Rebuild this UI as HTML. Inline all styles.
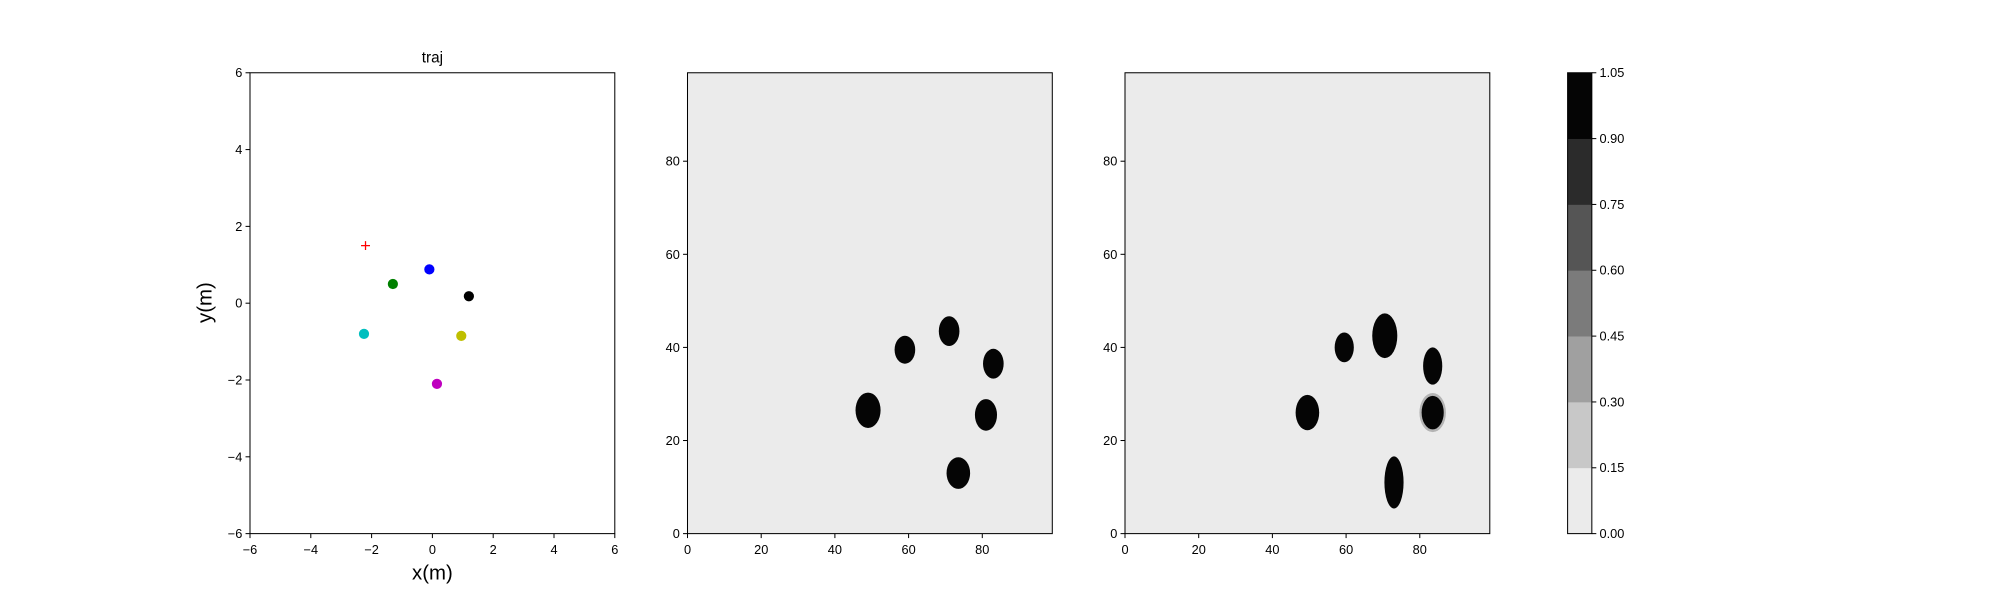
<!DOCTYPE html>
<html><head><meta charset="utf-8">
<style>
html,body{margin:0;padding:0;background:#fff;}
svg{display:block;font-family:"Liberation Sans","DejaVu Sans",sans-serif;}
</style></head>
<body>
<svg id="fig" width="2000" height="600" viewBox="0 0 1568 470" preserveAspectRatio="none" xmlns="http://www.w3.org/2000/svg"></svg>
<script>
// ---- data ----
const trajTicks = [-6,-4,-2,0,2,4,6];
const pointX = [-2.2,-1.3,-0.1,1.2,-2.25,0.95,0.15];
const pointY = [1.5,0.5,0.88,0.18,-0.8,-0.85,-2.1];
const pointColor = ['red','#008000','#0000ff','#000000','#00bfbf','#bfbf00','#bf00bf'];
const mapTicks = [0,20,40,60,80];
const blob1X = [49,59,71,83,81,73.5];
const blob1Y = [26.5,39.5,43.5,36.5,25.5,13];
const blob1RX = [3.4,2.8,2.8,2.8,3.0,3.2];
const blob1RY = [3.8,3.0,3.2,3.2,3.4,3.4];
const blob1Halo = [0,0,0,0,0,0];
const blob2X = [49.5,59.5,70.5,83.5,83.5,73];
const blob2Y = [26,40,42.5,36,26,11];
const blob2RX = [3.2,2.6,3.4,2.6,3.0,2.6];
const blob2RY = [3.8,3.2,4.8,4.0,3.6,5.6];
const blob2Halo = [0,0,0,0,1,0];
const cbarTicks = ['0.00','0.15','0.30','0.45','0.60','0.75','0.90','1.05'];
const cbarColors = ['#ebebeb','#c8c8c8','#a0a0a0','#7b7b7b','#555555','#2b2b2b','#050505'];

const NS='http://www.w3.org/2000/svg';
const fig=document.getElementById('fig');
function mk(tag,attrs,parent){const e=document.createElementNS(NS,tag);for(const k in attrs)e.setAttribute(k,attrs[k]);(parent||fig).appendChild(e);return e;}
function txt(x,y,s,size,anchor,parent){const t=mk('text',{x:x,y:y,'font-size':size,'text-anchor':anchor||'middle',fill:'#000'},parent);t.textContent=s;return t;}

const T=57, B=418, W=286;
function axes(name,x0,xmin,xmax,ymin,ymax,xt,yt,bg){
  const g=mk('g',{});
  
  
  const sx=v=>x0+(v-xmin)/(xmax-xmin)*W;
  const sy=v=>B-(v-ymin)/(ymax-ymin)*(B-T);
  const bgr=mk('rect',{x:x0,y:T,width:W,height:B-T,fill:bg},g);
  
  
  const content=mk('g',{},g);
  xt.forEach(v=>{const x=sx(v);mk('line',{x1:x,y1:B,x2:x,y2:B+3.5,stroke:'#000','stroke-width':0.8},g);
    const l=txt(x,B+16,String(v).replace('-','\u2212'),10,'middle',g);
    
    });
  yt.forEach(v=>{const y=sy(v);mk('line',{x1:x0-3.5,y1:y,x2:x0,y2:y,stroke:'#000','stroke-width':0.8},g);
    const l=txt(x0-6,y+3.5,String(v).replace('-','\u2212'),10,'end',g);
    
    });
  return {g,content,sx,sy,finish:()=>mk('rect',{x:x0,y:T,width:W,height:B-T,fill:'none',stroke:'#000','stroke-width':0.8},g)};
}

// Panel 1: trajectory
const a1=axes('traj-plot',196,-6,6,-6,6,trajTicks,trajTicks,'#fff');
pointX.forEach((v,i)=>{
  const x=a1.sx(v),y=a1.sy(pointY[i]);
  if(i===0){
    const p=mk('path',{d:`M${x-3.5},${y}H${x+3.5}M${x},${y-3.5}V${y+3.5}`,stroke:pointColor[i],'stroke-width':1},a1.content);
    
    
  } else {
    const c=mk('circle',{cx:x,cy:y,r:4,fill:pointColor[i]},a1.content);
    
    
  }
});
a1.finish();
const tt=txt(339,49,'traj',12);


const xl=txt(339,454,'x(m)',16);


const yl=txt(0,0,'y(m)',16);
yl.setAttribute('transform','translate(166,237) rotate(-90)');



// Panels 2 & 3: occupancy maps
function blobs(a,X,Y,RX,RY,H){
  const kx=W/99, ky=(B-T)/99;
  X.forEach((v,i)=>{
    if(H[i]){
      const h=mk('ellipse',{cx:a.sx(v),cy:a.sy(Y[i]),rx:(RX[i]+0.6)*kx,ry:(RY[i]+0.6)*ky,fill:'#b4b4b4'},a.content);
      
      
    }
    const e=mk('ellipse',{cx:a.sx(v),cy:a.sy(Y[i]),rx:RX[i]*kx,ry:RY[i]*ky,fill:'#050505'},a.content);
    
    
  });
}
const a2=axes('occupancy-map-true',539,0,99,0,99,mapTicks,mapTicks,'#ebebeb');
blobs(a2,blob1X,blob1Y,blob1RX,blob1RY,blob1Halo);
a2.finish();
const a3=axes('occupancy-map-predicted',882,0,99,0,99,mapTicks,mapTicks,'#ebebeb');
blobs(a3,blob2X,blob2Y,blob2RX,blob2RY,blob2Halo);
a3.finish();

// Colorbar
const cb=mk('g',{});


const cx0=1229,cw=19,n=cbarColors.length,bh=(B-T)/n;
cbarColors.forEach((c,i)=>{
  const r=mk('rect',{x:cx0,y:B-(i+1)*bh,width:cw,height:bh+0.3,fill:c},cb);
  
  
});
mk('rect',{x:cx0,y:T,width:cw,height:B-T,fill:'none',stroke:'#000','stroke-width':0.8},cb);
cbarTicks.forEach((s,i)=>{
  const y=B-i*bh;
  mk('line',{x1:cx0+cw,y1:y,x2:cx0+cw+3.5,y2:y,stroke:'#000','stroke-width':0.8},cb);
  const l=txt(cx0+cw+6,y+3.5,s,10,'start',cb);
  
  
});
</script>
</body></html>
